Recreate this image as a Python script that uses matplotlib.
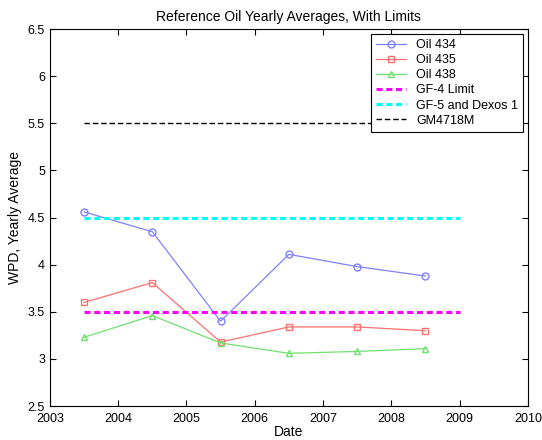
import matplotlib.pyplot as plt
import numpy as np

plt.rcParams['font.family'] = ['Liberation Sans', 'DejaVu Sans']

# data
years = [2003.5, 2004.5, 2005.5, 2006.5, 2007.5, 2008.5]
oil434 = [4.56, 4.35, 3.40, 4.11, 3.98, 3.88]
oil435 = [3.60, 3.81, 3.18, 3.34, 3.34, 3.30]
oil438 = [3.23, 3.46, 3.17, 3.06, 3.08, 3.11]

limit_x = [2003.5, 2009]
gf4 = 3.5
gf5 = 4.5
gm4718m = 5.5

fig = plt.figure(figsize=(5.42, 4.4), dpi=100)
ax = fig.add_axes([0.092, 0.077, 0.882, 0.857])

ax.plot(years, oil434, color='#8080ff', marker='o', mfc='none', ms=5, lw=0.9, label='Oil 434')
ax.plot(years, oil435, color='#ff7070', marker='s', mfc='none', ms=5, lw=0.9, label='Oil 435')
ax.plot(years, oil438, color='#70e070', marker='^', mfc='none', ms=5, lw=0.9, label='Oil 438')
ax.plot(limit_x, [gf4, gf4], color='#ff00ff', ls=(0, (2, 1.2)), lw=2.2, label='GF-4 Limit')
ax.plot(limit_x, [gf5, gf5], color='#00ffff', ls=(0, (2, 1.2)), lw=2.2, label='GF-5 and Dexos 1')
ax.plot(limit_x, [gm4718m, gm4718m], color='black', ls=(0, (4, 2)), lw=1, label='GM4718M')

ax.set_xlim(2003, 2010)
ax.set_ylim(2.5, 6.5)
ax.set_xticks(np.arange(2003, 2011, 1))
ax.set_yticks(np.arange(2.5, 6.6, 0.5))
ax.set_yticklabels(['2.5', '3', '3.5', '4', '4.5', '5', '5.5', '6', '6.5'])
ax.tick_params(direction='in', top=True, right=True, labelsize=9, length=4)
ax.tick_params(axis='x', pad=5)

ax.set_xlabel('Date', fontsize=10, labelpad=0)
ax.set_ylabel('WPD, Yearly Average', fontsize=10)
ax.set_title('Reference Oil Yearly Averages, With Limits', fontsize=10)

leg = ax.legend(loc='upper right', fontsize=9, fancybox=False, framealpha=1,
                edgecolor='black', borderaxespad=0.4, handlelength=2.4,
                labelspacing=0.25)
leg.get_frame().set_linewidth(0.8)

plt.savefig('out.png', dpi=100)
